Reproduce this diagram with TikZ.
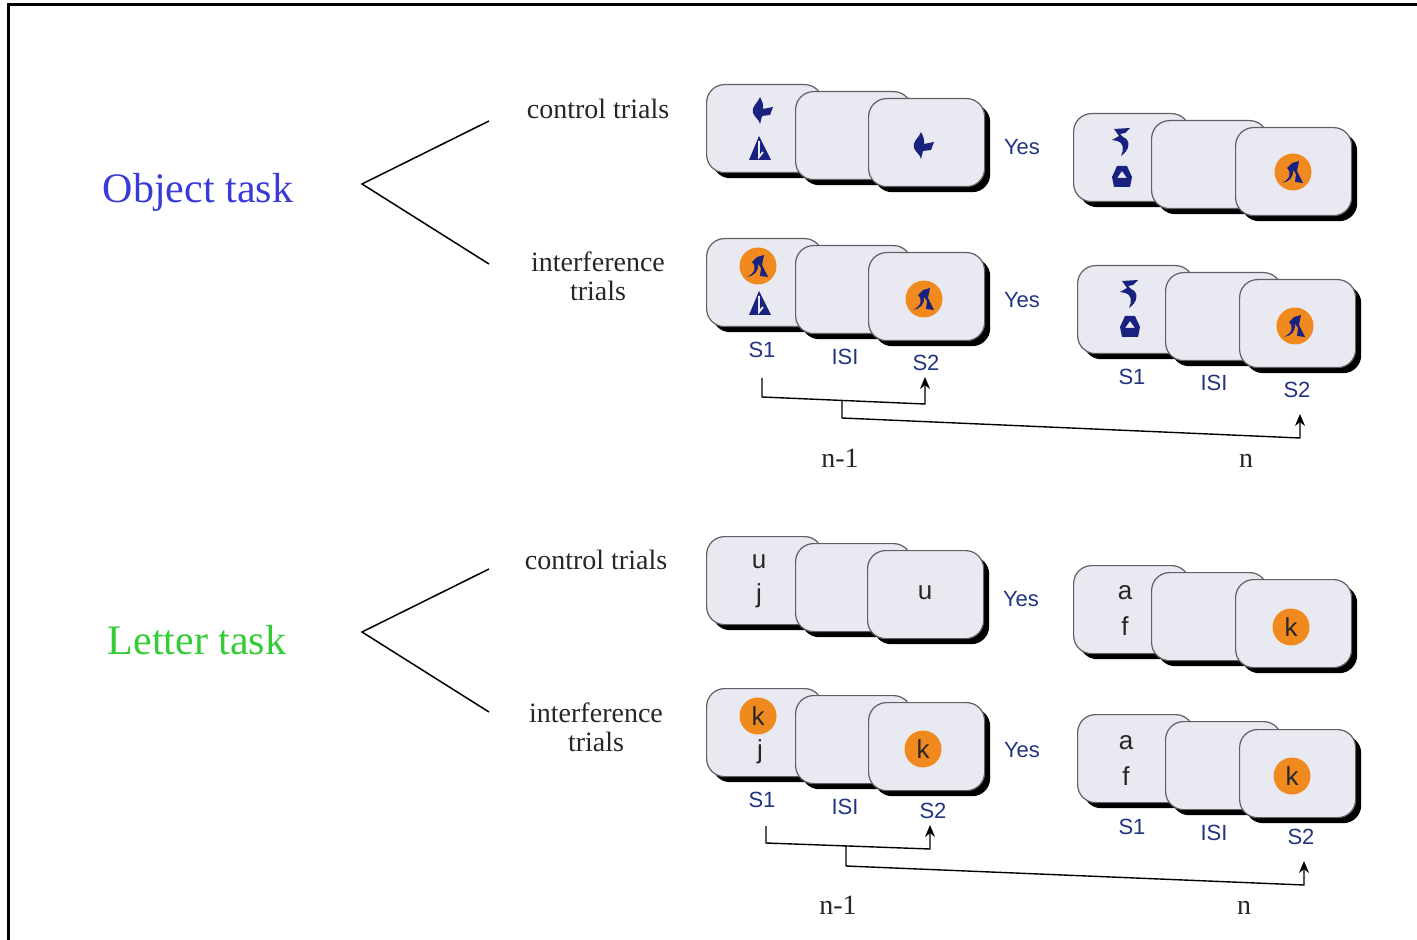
\documentclass[tikz,border=0pt]{standalone}
\usepackage{fontspec}
\setmainfont{Liberation Serif}
\newfontfamily\labelsans{Liberation Sans}
\usetikzlibrary{shadows,arrows.meta}

\definecolor{cardfill}{RGB}{233,234,241}
\definecolor{cardedge}{RGB}{95,95,100}
\definecolor{navy}{RGB}{26,34,128}
\definecolor{labelblue}{RGB}{34,52,128}
\definecolor{dotorange}{RGB}{241,138,30}
\definecolor{objblue}{RGB}{58,58,214}
\definecolor{lettergreen}{RGB}{52,204,52}

\tikzset{
  card/.style={draw=cardedge, line width=0.6pt, fill=cardfill, rounded corners=9pt,
    minimum width=58pt, minimum height=44pt, inner sep=0pt, anchor=north west,
    drop shadow={shadow xshift=2.8pt, shadow yshift=-2.8pt, fill=black, opacity=1}},
  tasklabel/.style={font=\fontsize{21}{21}\selectfont},
  triallabel/.style={font=\fontsize{14}{14.5}\selectfont, align=center, text=black!85},
  countlabel/.style={font=\fontsize{14}{14.5}\selectfont, text=black!85, anchor=base},
  seqlabel/.style={font=\labelsans\fontsize{11}{11}\selectfont, text=labelblue},
  letter/.style={font=\labelsans\fontsize{13}{13}\selectfont, text=black!85, inner sep=0pt},
  orangedot/.style={circle, fill=dotorange, minimum size=18.5pt, inner sep=0pt,
    font=\labelsans\fontsize{13}{13}\selectfont, text=black!85},
  branch/.style={line width=0.75pt},
  bracket/.style={line width=0.7pt, -{Stealth[length=6pt,width=5pt]}},
  % stimulus glyphs, drawn in pixel units (y pointing down)
  leafglyph/.pic={\fill[navy] (-1,-14) .. controls (-4,-7) and (-10,-4) .. (-8,2)
      .. controls (-6,7) and (-2,8) .. (-1,13) -- (1,5) -- (9,4) -- (12,-4) -- (2,-2)
      .. controls (3,-6) and (1,-10) .. cycle;},
  sailglyph/.pic={\fill[navy] (-1,-13) -- (-11,11) -- (11,11) -- cycle;
      \draw[cardfill, line width=0.9pt] (-1,-8) -- (-1,8) -- (3,3);},
  fiveglyph/.pic={\fill[navy] (-8,-13) -- (8,-14) -- (3,-9) -- (-2,-8) -- (1,-5)
      .. controls (9,-2) and (8,8) .. (-1,14) .. controls (2,7) and (2,1) .. (-5,-1)
      -- (-10,-2) -- (-3,-6) -- cycle;},
  boatglyph/.pic={\fill[navy, even odd rule] (-10,0) -- (-5,-11) -- (5,-11) -- (10,0)
      -- (8,10) -- (-8,10) -- cycle (-5,1) -- (0,-6) -- (5,1) -- cycle;},
  dotglyph/.pic={\fill[navy] (-11,11) .. controls (-3,7) and (-1,1) .. (-6,-4) -- (-1,-9)
      -- (6,-11) -- (4,-1) -- (10,11) -- (2,10) -- (3,2) -- (0,-2)
      .. controls (1,5) and (-4,10) .. (-11,11) -- cycle;},
}

\begin{document}
\begin{tikzpicture}[x=0.5pt,y=-0.5pt]
\useasboundingbox (0,0) rectangle (1417,940);

% frame
\draw[line width=1.5pt] (8,940) -- (8,5) -- (1417,5);

% ---------------- object task ----------------
\node[tasklabel, text=objblue] (objtask) at (198,192) {Object task};
\coordinate (objapex) at (362,184);
\coordinate (objup) at (489,121);
\coordinate (objdown) at (489,264);
\draw[branch] (objup) -- (objapex) -- (objdown);
\node[triallabel] (objctrl) at (598,109) {control trials};
\node[triallabel] (objint) at (598,276) {interference\\trials};

% control trials, n-1
\node[card] (oca) at (706,84) {};
\node[card] (ocb) at (795,91) {};
\node[card] (occ) at (868,98) {};
\pic at (761,111) {leafglyph};
\pic at (760,149) {sailglyph};
\pic at (922,146) {leafglyph};
\node[seqlabel] (ocyes) at (1022,147) {Yes};
% control trials, n
\node[card] (ocna) at (1073,113) {};
\node[card] (ocnb) at (1151,120) {};
\node[card] (ocnc) at (1235,127) {};
\pic at (1122,142) {fiveglyph};
\pic at (1122,177) {boatglyph};
\node[orangedot] (ocndot) at (1293,172) {};
\pic at (ocndot) {dotglyph};

% interference trials, n-1
\node[card] (oia) at (706,238) {};
\node[card] (oib) at (795,245) {};
\node[card] (oic) at (868,252) {};
\node[orangedot] (oiadot) at (758,266) {};
\pic at (oiadot) {dotglyph};
\pic at (760,304) {sailglyph};
\node[orangedot] (oicdot) at (924,299) {};
\pic at (oicdot) {dotglyph};
\node[seqlabel] (oiyes) at (1022,300) {Yes};
\node[seqlabel] (ois1) at (762,350) {S1};
\node[seqlabel] (oiisi) at (845,357) {ISI};
\node[seqlabel] (ois2) at (926,363) {S2};
% interference trials, n
\node[card] (oina) at (1077,265) {};
\node[card] (oinb) at (1165,272) {};
\node[card] (oinc) at (1239,279) {};
\pic at (1130,294) {fiveglyph};
\pic at (1130,327) {boatglyph};
\node[orangedot] (oincdot) at (1295,326) {};
\pic at (oincdot) {dotglyph};
\node[seqlabel] (oins1) at (1132,377) {S1};
\node[seqlabel] (oinisi) at (1214,383) {ISI};
\node[seqlabel] (oins2) at (1297,390) {S2};

% comparisons
\coordinate (ob1a) at (762,378);
\coordinate (ob1b) at (762,397);
\coordinate (ob1c) at (925,404);
\coordinate (ob1d) at (925,377);
\draw[bracket] (ob1a) -- (ob1b) -- (ob1c) -- (ob1d);
\coordinate (ob2a) at (842,400.4);
\coordinate (ob2b) at (842,418);
\coordinate (ob2c) at (1300,438);
\coordinate (ob2d) at (1300,414);
\draw[bracket] (ob2a) -- (ob2b) -- (ob2c) -- (ob2d);
\node[countlabel] (obprev) at (840,467) {n-1};
\node[countlabel] (obcur) at (1246,467) {n};

% ---------------- letter task ----------------
\node[tasklabel, text=lettergreen] (lettask) at (197,640) {Letter task};
\coordinate (letapex) at (362,632);
\coordinate (letup) at (489,569);
\coordinate (letdown) at (489,712);
\draw[branch] (letup) -- (letapex) -- (letdown);
\node[triallabel] (letctrl) at (596,560) {control trials};
\node[triallabel] (letint) at (596,727) {interference\\trials};

% control trials, n-1
\node[card] (lca) at (706,536) {};
\node[card] (lcb) at (795,543) {};
\node[card] (lcc) at (867,550) {};
\node[letter] (lcau) at (759,562) {u};
\node[letter] (lcaj) at (759,596) {j};
\node[letter] (lccu) at (925,593) {u};
\node[seqlabel] (lcyes) at (1021,599) {Yes};
% control trials, n
\node[card] (lcna) at (1073,565) {};
\node[card] (lcnb) at (1151,572) {};
\node[card] (lcnc) at (1235,579) {};
\node[letter] (lcnaa) at (1125,593) {a};
\node[letter] (lcnaf) at (1125,626) {f};
\node[orangedot] (lcnck) at (1291,627) {k};

% interference trials, n-1
\node[card] (lia) at (706,688) {};
\node[card] (lib) at (795,695) {};
\node[card] (lic) at (868,702) {};
\node[orangedot] (liak) at (758,716) {k};
\node[letter] (liaj) at (760,752) {j};
\node[orangedot] (lick) at (923,749) {k};
\node[seqlabel] (liyes) at (1022,750) {Yes};
\node[seqlabel] (lis1) at (762,800) {S1};
\node[seqlabel] (liisi) at (845,807) {ISI};
\node[seqlabel] (lis2) at (933,811) {S2};
% interference trials, n
\node[card] (lina) at (1077,714) {};
\node[card] (linb) at (1165,721) {};
\node[card] (linc) at (1239,729) {};
\node[letter] (linaa) at (1126,743) {a};
\node[letter] (linaf) at (1126,776) {f};
\node[orangedot] (linck) at (1292,776) {k};
\node[seqlabel] (lins1) at (1132,827) {S1};
\node[seqlabel] (linisi) at (1214,833) {ISI};
\node[seqlabel] (lins2) at (1301,837) {S2};

% comparisons
\coordinate (lb1a) at (766,826);
\coordinate (lb1b) at (766,843);
\coordinate (lb1c) at (930,849);
\coordinate (lb1d) at (930,825);
\draw[bracket] (lb1a) -- (lb1b) -- (lb1c) -- (lb1d);
\coordinate (lb2a) at (846,846);
\coordinate (lb2b) at (846,866);
\coordinate (lb2c) at (1304,885);
\coordinate (lb2d) at (1304,861);
\draw[bracket] (lb2a) -- (lb2b) -- (lb2c) -- (lb2d);
\node[countlabel] (lbprev) at (838,914) {n-1};
\node[countlabel] (lbcur) at (1244,914) {n};
\end{tikzpicture}
\end{document}
